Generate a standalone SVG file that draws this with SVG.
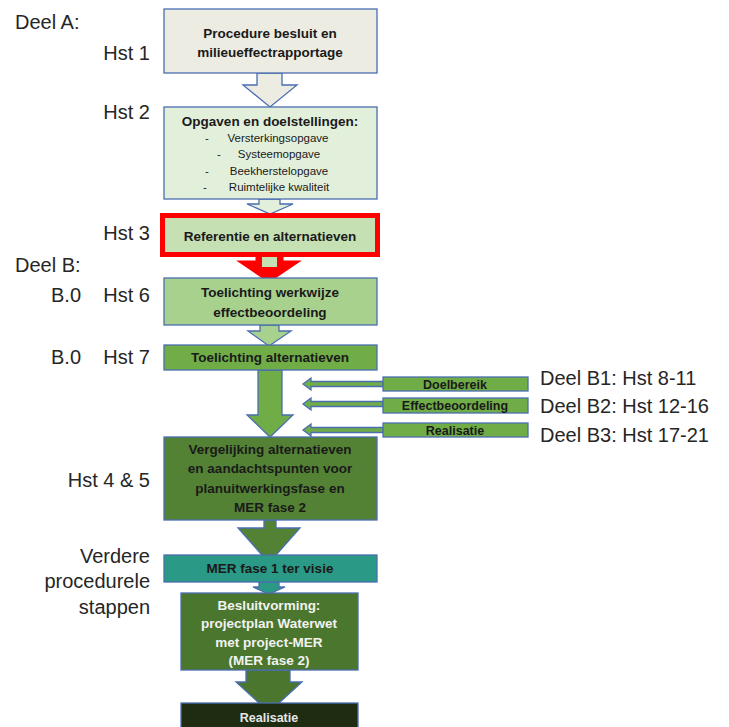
<svg xmlns="http://www.w3.org/2000/svg" width="729" height="727" viewBox="0 0 729 727">
<style>
.lbl{font-family:"Liberation Sans",Arial,sans-serif;font-size:20px;fill:#262626}
.bt{font-family:"Liberation Sans",Arial,sans-serif;font-size:13.5px;font-weight:bold;fill:#1a1a1a;text-anchor:middle}
.it{font-family:"Liberation Sans",Arial,sans-serif;font-size:11.5px;fill:#1a1a1a}
.rt{font-family:"Liberation Sans",Arial,sans-serif;font-size:12.5px;font-weight:bold;fill:#1a1a1a;text-anchor:middle}
.wt{fill:#F2F2F2}
.box{stroke:#4A6EB0;stroke-width:1.3}
.arr{stroke:#4A6EB0;stroke-width:1.3;stroke-linejoin:miter}
</style>
<rect width="729" height="727" fill="#FFFFFF"/>
<g id="labels">
<text class="lbl" x="15" y="29">Deel A:</text>
<text class="lbl" x="150" y="60" text-anchor="end">Hst 1</text>
<text class="lbl" x="150" y="119" text-anchor="end">Hst 2</text>
<text class="lbl" x="150" y="240" text-anchor="end">Hst 3</text>
<text class="lbl" x="15" y="272">Deel B:</text>
<text class="lbl" x="51" y="302">B.0</text>
<text class="lbl" x="150" y="302" text-anchor="end">Hst 6</text>
<text class="lbl" x="51" y="364">B.0</text>
<text class="lbl" x="150" y="364" text-anchor="end">Hst 7</text>
<text class="lbl" x="540" y="385">Deel B1: Hst 8-11</text>
<text class="lbl" x="540" y="413">Deel B2: Hst 12-16</text>
<text class="lbl" x="540" y="442">Deel B3: Hst 17-21</text>
<text class="lbl" x="150" y="487" text-anchor="end">Hst 4 &amp; 5</text>
<text class="lbl" x="150" y="563" text-anchor="end">Verdere</text>
<text class="lbl" x="150" y="588" text-anchor="end">procedurele</text>
<text class="lbl" x="150" y="614" text-anchor="end">stappen</text>
</g>
<g id="connectors">
<polygon class="arr" fill="#ECECE2" points="257,73 282,73 282,85 297,85 270,107 243,85 257,85"/>
<polygon class="arr" fill="#E2EFDA" points="259,199 280,199 280,204 293,204 270,214 247,204 259,204"/>
<polygon fill="#FF0000" stroke="#FF0000" stroke-width="3" stroke-linejoin="miter" points="257,257 282,257 282,262 297,262 269,281 241,262 257,262"/>
<rect x="262" y="257" width="15" height="10" fill="#C5E0B3"/>
<polygon class="arr" fill="#A9D18E" points="260,325 279,325 279,331 291,331 269,346 248,331 260,331"/>
<polygon class="arr" fill="#70AD47" points="258,370 282,370 282,415 293,415 270,437 247,415 258,415"/>
<polygon class="arr" fill="#548235" points="264,520 276,520 276,528 300,528 269,563 238,528 264,528"/>
<polygon class="arr" fill="#2A9985" points="259,582 279,582 279,587 285,587 269,594 253,587 259,587"/>
<polygon class="arr" fill="#4A772D" points="246,670 290,670 290,682 302,682 269,712 236,682 246,682"/>
<polygon class="arr" fill="#70AD47" points="383,381.5 311,381.5 311,378 303,384 311,390 311,386.5 383,386.5"/>
<polygon class="arr" fill="#70AD47" points="383,401.5 311,401.5 311,398 303,404 311,410 311,406.5 383,406.5"/>
<polygon class="arr" fill="#70AD47" points="383,427.5 311,427.5 311,424 303,430 311,436 311,432.5 383,432.5"/>
</g>
<g id="n1">
<rect class="box" x="164" y="9" width="213" height="64" fill="#ECECE2"/>
<text class="bt" x="270" y="38">Procedure besluit en</text>
<text class="bt" x="270" y="57">milieueffectrapportage</text>
</g>
<g id="n2">
<rect class="box" x="164" y="107" width="213" height="92" fill="#E2EFDA"/>
<text class="bt" x="270" y="126">Opgaven en doelstellingen:</text>
<text class="it" x="205" y="142">-</text><text class="it" x="278" y="142" text-anchor="middle">Versterkingsopgave</text>
<text class="it" x="217" y="158">-</text><text class="it" x="279" y="158" text-anchor="middle">Systeemopgave</text>
<text class="it" x="205" y="175">-</text><text class="it" x="279" y="175" text-anchor="middle">Beekherstelopgave</text>
<text class="it" x="203" y="191">-</text><text class="it" x="279" y="191" text-anchor="middle">Ruimtelijke kwaliteit</text>
</g>
<g id="n3">
<rect x="162.5" y="215.5" width="215" height="39" fill="#C5E0B3" stroke="#FF0000" stroke-width="5"/>
<text class="bt" x="270" y="241">Referentie en alternatieven</text>
</g>
<g id="n4">
<rect class="box" x="164" y="278" width="213" height="47" fill="#A9D18E"/>
<text class="bt" x="270" y="297">Toelichting werkwijze</text>
<text class="bt" x="270" y="317">effectbeoordeling</text>
</g>
<g id="n5">
<rect class="box" x="164" y="345" width="213" height="25" fill="#70AD47"/>
<text class="bt" x="270" y="362">Toelichting alternatieven</text>
</g>
<g id="n6">
<rect class="box" x="164" y="437" width="213" height="83" fill="#548235"/>
<text class="bt" x="270" y="454">Vergelijking alternatieven</text>
<text class="bt" x="270" y="473">en aandachtspunten voor</text>
<text class="bt" x="270" y="493">planuitwerkingsfase en</text>
<text class="bt" x="270" y="512">MER fase 2</text>
</g>
<g id="n7">
<rect class="box" x="164" y="555" width="213" height="27" fill="#2A9985"/>
<text class="bt" x="270" y="573">MER fase 1 ter visie</text>
</g>
<g id="n8">
<rect class="box" x="181" y="593" width="177" height="77" fill="#4A772D"/>
<text class="bt wt" x="269" y="610">Besluitvorming:</text>
<text class="bt wt" x="269" y="628">projectplan Waterwet</text>
<text class="bt wt" x="269" y="647">met project-MER</text>
<text class="bt wt" x="269" y="665">(MER fase 2)</text>
</g>
<g id="n9">
<rect class="box" x="181" y="703" width="177" height="26" fill="#1E2C12"/>
<text class="bt" x="269" y="722" style="fill:#E6E6E6;font-size:12.5px">Realisatie</text>
</g>
<g id="b1">
<rect class="box" x="383" y="377" width="145" height="14" fill="#70AD47"/>
<text class="rt" x="455" y="389">Doelbereik</text>
</g>
<g id="b2">
<rect class="box" x="383" y="398" width="145" height="15" fill="#70AD47"/>
<text class="rt" x="455" y="410">Effectbeoordeling</text>
</g>
<g id="b3">
<rect class="box" x="383" y="423" width="145" height="14" fill="#70AD47"/>
<text class="rt" x="455" y="435">Realisatie</text>
</g>
</svg>
